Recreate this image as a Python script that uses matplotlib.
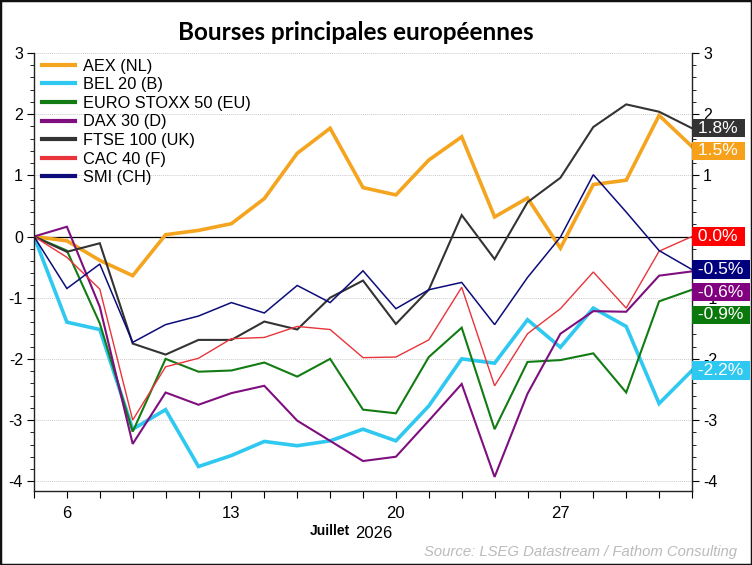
import matplotlib
matplotlib.use('Agg')
import matplotlib.pyplot as plt
from matplotlib.patches import Rectangle
from matplotlib.ticker import MultipleLocator, FixedLocator

plt.rcParams.update({'font.size': 10.5, 'font.family': 'Liberation Sans'})
plt.rcParams['axes.unicode_minus'] = False

# business days, 3 July -> 31 July 2026
days = list(range(21))
tick_pos = [1, 6, 11, 16]
tick_lab = ['6', '13', '20', '27']

aex = [0, -0.07, -0.39, -0.64, 0.03, 0.10, 0.21, 0.62, 1.36, 1.77, 0.80,
       0.68, 1.25, 1.63, 0.32, 0.63, -0.19, 0.85, 0.92, 1.98, 1.47]
bel = [0, -1.40, -1.52, -3.15, -2.83, -3.76, -3.58, -3.35, -3.42, -3.34, -3.15,
       -3.34, -2.77, -2.00, -2.07, -1.36, -1.81, -1.17, -1.47, -2.73, -2.19]
euro = [0, -0.23, -1.42, -3.19, -2.00, -2.21, -2.19, -2.06, -2.29, -2.00, -2.83,
        -2.89, -1.97, -1.49, -3.15, -2.05, -2.02, -1.91, -2.55, -1.06, -0.87]
dax = [0, 0.16, -1.15, -3.39, -2.55, -2.75, -2.56, -2.44, -3.01, -3.34, -3.67,
       -3.60, -3.01, -2.41, -3.93, -2.57, -1.59, -1.22, -1.23, -0.64, -0.57]
ftse = [0, -0.25, -0.11, -1.75, -1.93, -1.69, -1.69, -1.39, -1.52, -1.00, -0.72,
        -1.43, -0.87, 0.35, -0.37, 0.56, 0.96, 1.79, 2.16, 2.04, 1.77]
cac = [0, -0.34, -0.86, -3.00, -2.13, -1.99, -1.67, -1.65, -1.47, -1.52, -1.98,
       -1.97, -1.69, -0.83, -2.44, -1.59, -1.18, -0.58, -1.17, -0.24, 0.00]
smi = [0, -0.85, -0.45, -1.73, -1.44, -1.30, -1.08, -1.25, -0.80, -1.08, -0.56,
       -1.18, -0.87, -0.75, -1.44, -0.67, -0.01, 1.01, 0.40, -0.23, -0.54]

names = ['AEX (NL)', 'BEL 20 (B)', 'EURO STOXX 50 (EU)', 'DAX 30 (D)',
         'FTSE 100 (UK)', 'CAC 40 (F)', 'SMI (CH)']
series = [aex, bel, euro, dax, ftse, cac, smi]
line_cols = ['#F4A41F', '#2EC8F0', '#137B13', '#7F0F7F', '#333333', '#E8343A', '#0C0C7A']
box_cols = ['#F7A11A', '#2EC8F0', '#0A780A', '#800080', '#333333', '#FF0000', '#00007F']
widths = [2.6, 2.6, 1.5, 1.5, 1.5, 1.0, 1.1]

fig = plt.figure(figsize=(7.52, 5.65), dpi=100)
ax = fig.add_axes([34/752, 1-491/565, (692-34)/752, (491-53)/565])

for i in range(len(series)):
    ax.plot(days, series[i], color=line_cols[i], lw=widths[i], label=names[i],
            solid_joinstyle='miter')

ax.axhline(0, color='k', lw=0.9, zorder=1)
ax.set_xlim(0, 20)
ax.set_ylim(-4.16, 3.0)
for v in range(-4, 4):
    ax.axhline(v, color='#cccccc', lw=0.7, ls=(0, (1, 1)), zorder=0)

ax.xaxis.set_major_locator(FixedLocator(days))
ax.set_xticklabels(['' if d not in tick_pos else tick_lab[tick_pos.index(d)] for d in days])
ax.yaxis.set_major_locator(MultipleLocator(1))
ax.yaxis.set_minor_locator(MultipleLocator(0.2))
ax.tick_params(axis='both', which='major', direction='out', length=5,
               labelsize=11.5, pad=3)
ax.tick_params(axis='x', which='major', pad=6, labelsize=12)
ax.tick_params(axis='y', which='both', right=True, labelright=True)
ax.tick_params(axis='y', which='minor', direction='out', length=3)
ax.spines['top'].set_visible(False)
for s in ['left', 'right', 'bottom']:
    ax.spines[s].set_linewidth(1.0)
    ax.spines[s].set_color('#222222')

leg = ax.legend(loc='upper left', frameon=False, fontsize=11.8, handlelength=2.0,
                handletextpad=0.5, labelspacing=0.22, borderaxespad=0.1,
                bbox_to_anchor=(0.0, 1.006))
for h in leg.get_lines():
    h.set_linewidth(3)

# end labels, pushed down so they do not overlap
last = [(series[i][-1], i) for i in range(len(series))]
last.sort(reverse=True)
gap = 0.37
placed = []
for v, i in last:
    y = v
    if placed and placed[-1] - y < gap:
        y = placed[-1] - gap
    placed.append(y)
    txt = '%.1f%%' % series[i][-1]
    if txt == '-0.0%':
        txt = '0.0%'
    ax.annotate(' ' + txt + ' ', xy=(1.0, y), xycoords=('axes fraction', 'data'),
                xytext=(1, 0), textcoords='offset points', ha='left', va='center',
                color='white', fontsize=12.5, zorder=10, annotation_clip=False,
                bbox=dict(boxstyle='square,pad=0.1', fc=box_cols[i], ec='none'))

fig.text(356/752, 1-33/565, 'Bourses principales européennes', ha='center', va='center',
         fontsize=17.5, fontweight='bold', family='Lato')
fig.text(330/752, 1-531/565, 'Juillet', ha='center', va='center', fontsize=10,
         fontweight='bold')
fig.text(374/752, 1-533/565, '2026', ha='center', va='center', fontsize=12)
fig.text(737/752, 1-552/565, 'Source: LSEG Datastream / Fathom Consulting', ha='right',
         va='center', fontsize=10.7, style='italic', color='#bbbbbb')

fig.patches.append(Rectangle((0, 0), 1, 1, transform=fig.transFigure, fill=False,
                             lw=2.5, ec='#111111'))

fig.savefig('out.png', dpi=100)
